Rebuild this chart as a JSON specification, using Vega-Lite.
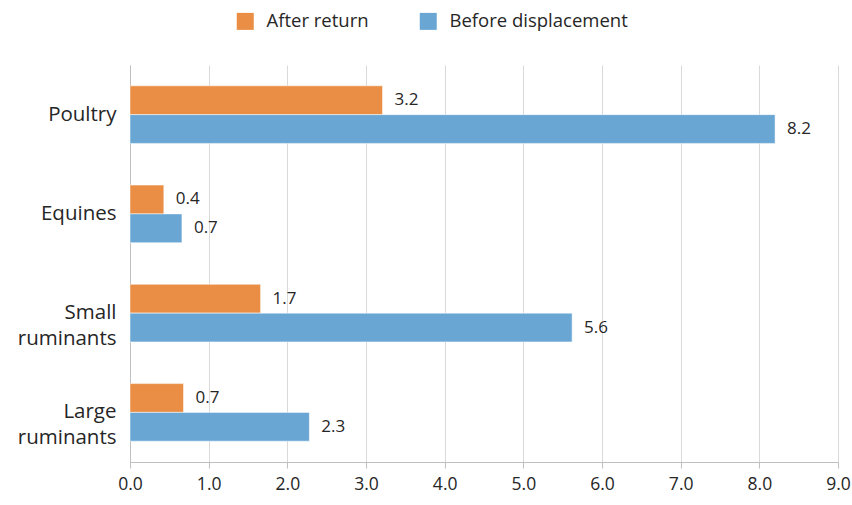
{
  "$schema": "https://vega.github.io/schema/vega-lite/v6.json",
  "width": 708,
  "height": 397,
  "autosize": {"type": "none"},
  "padding": {"left": 130, "top": 65, "right": 14, "bottom": 43},
  "background": "white",
  "config": {
    "font": "Open Sans",
    "view": {"stroke": null}
  },
  "data": {
    "values": [
      {"category": "Poultry", "series": "After return", "value": 3.21},
      {"category": "Poultry", "series": "Before displacement", "value": 8.2},
      {"category": "Equines", "series": "After return", "value": 0.43},
      {"category": "Equines", "series": "Before displacement", "value": 0.66},
      {"category": "Small ruminants", "series": "After return", "value": 1.66},
      {"category": "Small ruminants", "series": "Before displacement", "value": 5.62},
      {"category": "Large ruminants", "series": "After return", "value": 0.68},
      {"category": "Large ruminants", "series": "Before displacement", "value": 2.28}
    ]
  },
  "encoding": {
    "y": {
      "field": "category",
      "type": "nominal",
      "sort": ["Poultry", "Equines", "Small ruminants", "Large ruminants"],
      "scale": {"paddingInner": 0.42, "paddingOuter": 0.21},
      "axis": {
        "title": null,
        "ticks": false,
        "domain": true,
        "domainColor": "#bfbfbf",
        "labelFontSize": 20.5,
        "labelColor": "#262626",
        "labelPadding": 14,
        "labelLineHeight": 26,
        "labelLimit": 300,
        "labelExpr": "split(datum.label, ' ')"
      }
    },
    "yOffset": {
      "field": "series",
      "type": "nominal",
      "sort": ["After return", "Before displacement"],
      "scale": {"paddingInner": 0, "paddingOuter": 0}
    },
    "x": {
      "field": "value",
      "type": "quantitative",
      "scale": {"domain": [0, 9], "nice": false},
      "axis": {
        "title": null,
        "values": [0, 1, 2, 3, 4, 5, 6, 7, 8, 9],
        "format": ".1f",
        "grid": true,
        "gridColor": "#d9d9d9",
        "domainColor": "#bfbfbf",
        "tickColor": "#bfbfbf",
        "tickSize": 6,
        "labelOverlap": false,
        "labelFlush": false,
        "labelBound": false,
        "labelFontSize": 17.5,
        "labelColor": "#262626",
        "labelPadding": 7
      }
    }
  },
  "layer": [
    {
      "mark": {"type": "bar", "stroke": "white", "strokeWidth": 0.5},
      "encoding": {
        "color": {
          "field": "series",
          "type": "nominal",
          "scale": {"domain": ["After return", "Before displacement"], "range": ["#E98E44", "#69A6D4"]},
          "legend": {
            "title": null,
            "orient": "none",
            "direction": "horizontal",
            "legendX": 106,
            "legendY": -53,
            "symbolType": "square",
            "symbolSize": 289,
            "symbolStrokeWidth": 0,
            "labelFontSize": 18.5,
            "labelColor": "#262626",
            "labelOffset": 12,
            "labelLimit": 400,
            "columnPadding": 50
          }
        }
      }
    },
    {
      "mark": {"type": "text", "align": "left", "baseline": "middle", "dx": 12, "fontSize": 17, "color": "#262626"},
      "encoding": {
        "text": {"field": "value", "type": "quantitative", "format": ".1f"}
      }
    }
  ]
}
